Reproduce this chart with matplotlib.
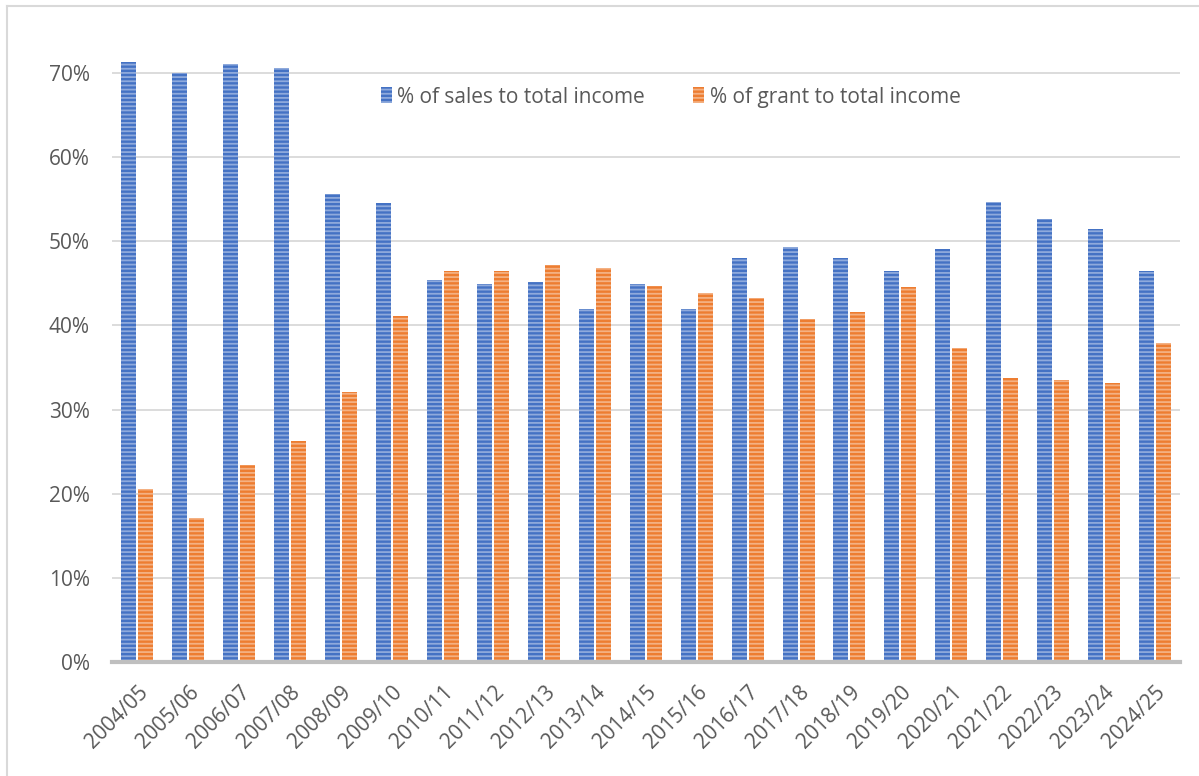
import numpy as np
import matplotlib.pyplot as plt
from matplotlib.lines import Line2D

years = ["2004/05", "2005/06", "2006/07", "2007/08", "2008/09", "2009/10",
         "2010/11", "2011/12", "2012/13", "2013/14", "2014/15", "2015/16",
         "2016/17", "2017/18", "2018/19", "2019/20", "2020/21", "2021/22",
         "2022/23", "2023/24", "2024/25"]
sales_pct = [71.3, 70.0, 71.0, 70.6, 55.6, 54.5, 45.4, 44.9, 45.1, 42.0, 44.9,
             42.0, 48.0, 49.3, 48.0, 46.5, 49.1, 54.6, 52.6, 51.5, 46.4]
grant_pct = [20.5, 17.1, 23.4, 26.3, 32.1, 41.1, 46.4, 46.4, 47.2, 46.8, 44.7,
             43.8, 43.3, 40.7, 41.6, 44.5, 37.3, 33.8, 33.5, 33.2, 37.9]
yticks = [0, 10, 20, 30, 40, 50, 60, 70]

plt.rcParams['font.family'] = ['Open Sans', 'DejaVu Sans']
plt.rcParams['hatch.linewidth'] = 1.3

fig = plt.figure(figsize=(11.99, 7.76), dpi=100)
ax = fig.add_axes([112 / 1199, 1 - 662 / 776, (1180 - 112) / 1199, (662 - 56) / 776])

x = np.arange(len(years))
w = 0.295
off = 0.167
blue, blue_l = "#4472C4", "#8FAADC"
orange, orange_l = "#ED7D31", "#F4B183"

ax.bar(x - off, np.array(sales_pct) / 100, w, color=blue, edgecolor=blue_l,
       linewidth=0, hatch="----", zorder=3)
ax.bar(x + off, np.array(grant_pct) / 100, w, color=orange, edgecolor=orange_l,
       linewidth=0, hatch="----", zorder=3)

ax.set_xlim(-0.5, len(years) - 0.5)
ax.set_ylim(0, 0.72)
ax.set_yticks([t / 100 for t in yticks])
ax.set_yticklabels([f"{t}%" for t in yticks])
ax.set_xticks(x)
ax.set_xticklabels(years, rotation=45, ha="right", rotation_mode="anchor")

ax.tick_params(axis="both", length=0, colors="#595959", labelsize=15)
ax.tick_params(axis="y", pad=16)
ax.tick_params(axis="x", pad=14)
ax.grid(axis="y", color="#D9D9D9", linewidth=1.3, zorder=0)
for s in ["top", "right", "left"]:
    ax.spines[s].set_visible(False)
ax.spines["bottom"].set_color("#BFBFBF")
ax.spines["bottom"].set_linewidth(3)
ax.spines["bottom"].set_zorder(4)

handles = [plt.Rectangle((0, 0), 1, 1, facecolor=blue, edgecolor=blue_l, linewidth=0, hatch="----"),
           plt.Rectangle((0, 0), 1, 1, facecolor=orange, edgecolor=orange_l, linewidth=0, hatch="----")]
leg = ax.legend(handles, ["% of sales to total income", "% of grant to total income"],
                loc="center", bbox_to_anchor=(0.523, 0.932), ncol=2, frameon=False,
                fontsize=15, handlelength=0.55, handleheight=0.8, handletextpad=0.25,
                columnspacing=2.3, borderaxespad=0, borderpad=0)
for t in leg.get_texts():
    t.set_color("#595959")

# chart border (Excel style)
fig.add_artist(Line2D([7 / 1199, 7 / 1199], [0, 1 - 6 / 776], color="#D9D9D9", linewidth=1.5))
fig.add_artist(Line2D([7 / 1199, 1], [1 - 6 / 776, 1 - 6 / 776], color="#D9D9D9", linewidth=1.5))

fig.savefig("out.png", dpi=100)
